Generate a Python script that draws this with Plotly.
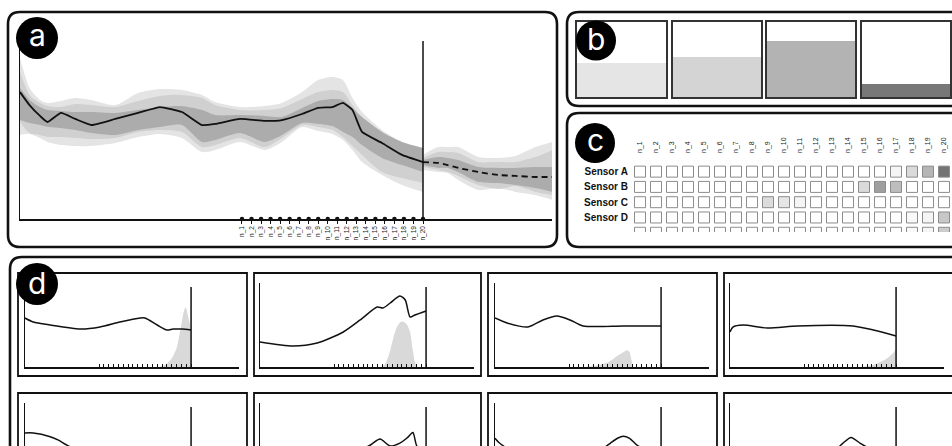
import plotly.graph_objects as go

W, H = 952, 446

# ---------------- Panel a: history + forecast with uncertainty bands ----------------
a_t = [-22.3, -21.3, -20.2, -19.4, -18.0, -16.5, -14.8, -12.3, -9.9, -7.6, -5.3, -3.2, -1.8,
       0.8, 3.4, 5.2, 7.3, 9.0, 10.5, 11.6, 12.6, 13.6, 15.7, 17.8, 20.0]
a_mean = [71.3, 64.0, 57.9, 54.5, 59.6, 56.2, 52.8, 56.2, 59.6, 62.9, 60.1, 52.8, 53.4,
          56.2, 55.1, 55.6, 59.0, 62.4, 62.9, 65.2, 61.2, 48.9, 42.7, 36.0, 32.0]
a_out_hi = [90.4, 73.6, 66.9, 65.2, 66.3, 68.0, 66.9, 64.0, 70.8, 73.0, 72.5, 69.7, 65.7,
            62.9, 63.5, 65.2, 71.3, 78.1, 79.8, 78.1, 68.0, 60.1, 50.0, 43.3, 39.9]
a_mid_hi = [82.6, 69.7, 65.2, 63.5, 62.9, 64.6, 64.0, 62.9, 66.3, 69.1, 69.7, 68.0, 64.0,
            61.2, 61.2, 62.4, 67.4, 71.3, 72.5, 71.3, 64.0, 56.7, 48.3, 41.6, 38.8]
a_in_hi = [73.6, 66.9, 62.9, 61.2, 60.7, 60.1, 60.1, 59.6, 61.2, 62.9, 63.5, 61.2, 58.4,
           58.4, 57.9, 57.3, 62.4, 66.3, 67.4, 66.9, 62.4, 57.3, 48.9, 43.3, 39.9]
a_in_lo = [55.6, 53.9, 52.8, 51.7, 51.1, 50.0, 48.3, 47.2, 50.0, 51.7, 52.8, 43.3, 44.4,
           48.3, 43.3, 47.2, 53.9, 53.4, 52.2, 48.9, 46.1, 41.6, 34.3, 30.3, 26.4]
a_mid_lo = [54.5, 48.3, 47.2, 46.1, 46.1, 45.5, 44.9, 45.5, 48.9, 50.0, 48.9, 40.4, 41.6,
            45.5, 40.4, 45.5, 52.8, 51.7, 50.0, 46.1, 41.0, 36.0, 26.4, 23.0, 20.2]
a_out_lo = [47.2, 47.8, 45.5, 43.3, 41.6, 41.0, 41.0, 42.7, 46.1, 47.8, 45.5, 37.6, 38.8,
            43.3, 38.8, 43.3, 51.7, 49.4, 47.8, 44.4, 38.8, 32.0, 24.7, 19.1, 15.2]

f_t = [20.0, 21.6, 22.6, 23.7, 25.8, 27.9, 29.7, 31.8, 33.6]
f_mean = [32.0, 31.5, 30.3, 28.7, 26.4, 24.7, 24.2, 23.6, 23.6]
f_out_hi = [36.0, 40.4, 40.4, 40.4, 34.8, 34.3, 35.4, 40.4, 43.3]
f_mid_hi = [34.3, 37.6, 37.6, 37.1, 32.0, 32.0, 32.0, 34.8, 38.8]
f_in_hi = [33.1, 34.8, 34.3, 33.1, 29.2, 28.7, 28.7, 29.2, 29.2]
f_in_lo = [30.3, 28.7, 28.7, 26.4, 20.8, 20.2, 19.1, 17.4, 15.2]
f_mid_lo = [29.2, 27.5, 26.4, 24.2, 19.1, 16.9, 18.5, 15.2, 13.5]
f_out_lo = [27.5, 26.4, 25.8, 21.9, 16.3, 17.4, 15.2, 13.5, 10.7]

steps = [1, 2, 3, 4, 5, 6, 7, 8, 9, 10, 11, 12, 13, 14, 15, 16, 17, 18, 19, 20]
step_labels = ["n_1", "n_2", "n_3", "n_4", "n_5", "n_6", "n_7", "n_8", "n_9", "n_10",
               "n_11", "n_12", "n_13", "n_14", "n_15", "n_16", "n_17", "n_18", "n_19", "n_20"]
now_step = 20
vline_top = 95.2

# ---------------- Panel b: fill levels ----------------
b_values = [0.46, 0.54, 0.75, 0.18]

# ---------------- Panel c: sensor x step matrix ----------------
sensors = ["Sensor A", "Sensor B", "Sensor C", "Sensor D", "Sensor E"]
c_A = [0, 0, 0, 0, 0, 0, 0, 0, 0, 0, 0, 0, 0, 0, 0, 0, 0.05, 0.19, 0.38, 0.72]
c_B = [0, 0, 0, 0, 0, 0, 0, 0, 0, 0, 0, 0, 0, 0, 0.19, 0.49, 0.34, 0, 0, 0]
c_C = [0, 0, 0, 0, 0, 0, 0, 0, 0.18, 0.13, 0.05, 0, 0, 0, 0, 0, 0, 0, 0, 0]
c_D = [0, 0, 0, 0, 0, 0, 0, 0, 0, 0, 0, 0, 0, 0, 0, 0, 0, 0.03, 0.05, 0.28]
c_E = [0, 0, 0, 0, 0, 0, 0, 0, 0, 0, 0, 0, 0, 0, 0, 0, 0, 0.03, 0.05, 0.26]
c_rows = [c_A, c_B, c_C, c_D, c_E]

# ---------------- Panel d: small multiples ----------------
d1_t = [-14.3, -12.6, -9.1, -2.9, 1.2, 5.3, 9.5, 10.5, 13.0, 15.0, 16.3, 18.1, 20.0]
d1_v = [58.3, 53.6, 50.0, 45.2, 47.6, 53.6, 58.3, 58.3, 50.0, 44.0, 45.2, 45.2, 44.0]
d2_t = [-14.3, -7.5, -2.5, 2.9, 6.4, 9.9, 11.1, 12.6, 14.6, 15.7, 16.7, 17.7, 20.0]
d2_v = [29.8, 25.0, 28.6, 41.7, 56.0, 71.4, 70.2, 76.2, 84.5, 79.8, 59.5, 61.9, 66.7]
d3_t = [-14.3, -11.8, -7.5, -4.4, -1.5, 1.2, 3.9, 12.2, 20.0]
d3_v = [58.3, 52.4, 47.6, 56.0, 60.7, 56.0, 48.8, 48.8, 48.8]
d4_t = [-14.3, -13.7, -11.6, -6.6, -0.4, 11.1, 15.3, 20.0]
d4_v = [41.7, 47.6, 50.0, 46.4, 48.8, 48.8, 44.0, 36.9]
d5_t = [-14.3, -12.6, -9.1, -7.5, -5.0, 0.0, 6.0, 12.0, 20.0]
d5_v = [64.3, 64.3, 59.9, 56.0, 48.0, 41.0, 38.0, 36.0, 35.0]
d6_t = [-14.3, -8.0, -2.0, 4.0, 8.5, 10.5, 12.5, 14.5, 16.0, 17.0, 17.3, 18.0, 18.6, 20.0]
d6_v = [22, 20, 26, 36, 50, 57, 49, 52, 58, 64, 65, 50, 44, 47]
d7_t = [-14.3, -13.5, -12.0, -8.0, -2.0, 4.0, 8.0, 9.5, 11.0, 12.2, 13.5, 15.0, 16.5, 20.0]
d7_v = [58, 53, 47, 42, 40, 41, 46, 52, 58, 60.5, 58, 50, 45, 44]
d8_t = [-14.3, -8.0, -2.0, 4.0, 8.0, 9.0, 10.7, 12.6, 14.5, 17.0, 20.0]
d8_v = [40, 42, 44, 45, 47, 52, 59, 52, 46, 43, 42]

d1_dt = [13.5, 15.0, 16.0, 17.0, 17.8, 18.5, 18.9, 19.4, 20.0]
d1_dv = [0, 4, 10, 22, 45, 66, 71, 60, 45]
d2_dt = [10.5, 11.5, 12.6, 13.4, 14.0, 14.6, 15.3, 16.0, 16.7, 17.2, 17.7, 18.2]
d2_dv = [0, 3, 20, 38, 48, 53, 54, 51, 42, 22, 6, 0]
d3_dt = [4.5, 7.0, 8.8, 10.0, 10.9, 12.0, 13.0, 13.5, 13.9, 14.3]
d3_dv = [0, 2, 5, 9, 13, 17, 20, 18, 8, 0]
d4_dt = [12.5, 14.5, 16.0, 17.5, 18.5, 19.3, 20.0]
d4_dv = [0, 1.5, 4, 8, 12, 16, 21.4]

d_lines = [(d1_t, d1_v), (d2_t, d2_v), (d3_t, d3_v), (d4_t, d4_v),
           (d5_t, d5_v), (d6_t, d6_v), (d7_t, d7_v), (d8_t, d8_v)]
d_dens = [(d1_dt, d1_dv), (d2_dt, d2_dv), (d3_dt, d3_dv), (d4_dt, d4_dv),
          None, None, None, None]

# ---------------- styles ----------------
INK = "#111111"
C_OUT, C_MID, C_IN = "#e4e4e4", "#d0d0d0", "#acacac"
B_COLORS = ["#e5e5e5", "#d4d4d4", "#b3b3b3", "#787878"]
DENS = "#d9d9d9"
FONT = "Liberation Sans"


def xd(p0, p1):
    return [p0 / W, p1 / W]


def yd(top, bottom):
    return [max(0.0, 1 - bottom / H), 1 - top / H]


def P(x, y):
    return f"{x / W:.5f},{1 - y / H:.5f}"


def rrect(x0, y0, x1, y1, r):
    return (f"M {P(x0 + r, y0)} L {P(x1 - r, y0)} Q {P(x1, y0)} {P(x1, y0 + r)} "
            f"L {P(x1, y1 - r)} Q {P(x1, y1)} {P(x1 - r, y1)} L {P(x0 + r, y1)} "
            f"Q {P(x0, y1)} {P(x0, y1 - r)} L {P(x0, y0 + r)} Q {P(x0, y0)} {P(x0 + r, y0)} Z")


base_ax = dict(showgrid=False, zeroline=False, fixedrange=True, showticklabels=False, ticks="")
fig = go.Figure()
layout = {}
spl = dict(shape="spline", smoothing=0.7)


def add_band(t, lo, hi, color, xa, ya):
    fig.add_trace(go.Scatter(x=t, y=lo, mode="lines", line=dict(width=0, **spl),
                             xaxis=xa, yaxis=ya, hoverinfo="skip"))
    fig.add_trace(go.Scatter(x=t, y=hi, mode="lines", line=dict(width=0, **spl), fill="tonexty",
                             fillcolor=color, xaxis=xa, yaxis=ya, hoverinfo="skip"))


# ---- Panel a ----
for lo, hi, col in [(a_out_lo, a_out_hi, C_OUT), (a_mid_lo, a_mid_hi, C_MID), (a_in_lo, a_in_hi, C_IN)]:
    add_band(a_t, lo, hi, col, "x", "y")
for lo, hi, col in [(f_out_lo, f_out_hi, C_OUT), (f_mid_lo, f_mid_hi, C_MID), (f_in_lo, f_in_hi, C_IN)]:
    add_band(f_t, lo, hi, col, "x", "y")
fig.add_trace(go.Scatter(x=a_t, y=a_mean, mode="lines",
                         line=dict(color=INK, width=1.8, shape="spline", smoothing=0.4)))
fig.add_trace(go.Scatter(x=f_t, y=f_mean, mode="lines",
                         line=dict(color=INK, width=1.8, dash="6px,4px", shape="spline", smoothing=0.4)))
fig.add_trace(go.Scatter(x=[now_step, now_step], y=[0, 100], mode="lines", line=dict(color=INK, width=1.5)))
fig.add_trace(go.Scatter(x=steps, y=[0] * len(steps), mode="markers", cliponaxis=False,
                         marker=dict(color=INK, size=4.5, symbol="circle")))
layout["xaxis"] = dict(base_ax, domain=xd(20, 552), range=[-22.3, 33.54], showline=True, linecolor=INK,
                       linewidth=1.5, tickvals=steps, ticktext=step_labels, showticklabels=True,
                       tickangle=-90, tickfont=dict(size=6.5, color="#222"), ticks="outside",
                       ticklen=3, tickcolor=INK, anchor="y")
layout["yaxis"] = dict(base_ax, domain=yd(41, 219), range=[0, 100], showline=True, linecolor=INK,
                       linewidth=1.5, anchor="x")

# ---- Panel b ----
b_boxes = [(577, 666), (673, 761), (767, 855), (862, 950)]
for i, (val, col, (x0, x1)) in enumerate(zip(b_values, B_COLORS, b_boxes)):
    n = i + 2
    fig.add_trace(go.Bar(x=[0], y=[val], width=1, marker=dict(color=col, line=dict(width=0)),
                         xaxis=f"x{n}", yaxis=f"y{n}"))
    layout[f"xaxis{n}"] = dict(base_ax, domain=xd(x0, x1), range=[-0.5, 0.5], showline=True, mirror=True,
                               linecolor="#333", linewidth=1.8, anchor=f"y{n}")
    layout[f"yaxis{n}"] = dict(base_ax, domain=yd(22, 97), range=[0, 1], showline=True, mirror=True,
                               linecolor="#333", linewidth=1.8, anchor=f"x{n}")

# ---- Panel c ----
cx, cy, cv = [], [], []
for r, row in enumerate(c_rows):
    for c, v in enumerate(row):
        cx.append(steps[c])
        cy.append(r + 1)
        cv.append(v)
fig.add_trace(go.Scatter(x=cx, y=cy, mode="markers", xaxis="x6", yaxis="y6", cliponaxis=True,
                         marker=dict(symbol="square", size=11, color=cv, cmin=0, cmax=1,
                                     colorscale=[[0, "#ffffff"], [1, "#3c3c3c"]],
                                     line=dict(color="#8c8c8c", width=1))))
layout["xaxis6"] = dict(base_ax, domain=xd(632, 952), range=[0.5, 20.5], side="top", tickvals=steps,
                        ticktext=step_labels, showticklabels=True, tickangle=-90,
                        tickfont=dict(size=7, color="#222"), ticklabelstandoff=10, anchor="y6")
layout["yaxis6"] = dict(base_ax, domain=yd(164, 232), range=[4.95, 0.5], tickvals=[1, 2, 3, 4, 5],
                        ticktext=sensors, showticklabels=True,
                        tickfont=dict(size=10, color=INK, family=FONT, weight="bold"),
                        ticklabelstandoff=3, anchor="x6")

# ---- Panel d ----
d_left = [25, 260, 495, 730]
for k in range(8):
    n = 7 + k
    row, col = divmod(k, 4)
    xa, ya = f"x{n}", f"y{n}"
    if d_dens[k] is not None:
        dt, dv = d_dens[k]
        fig.add_trace(go.Scatter(x=dt, y=dv, mode="lines", fill="tozeroy", fillcolor=DENS,
                                 line=dict(width=0, shape="spline", smoothing=0.6),
                                 xaxis=xa, yaxis=ya, hoverinfo="skip"))
    lt, lv = d_lines[k]
    fig.add_trace(go.Scatter(x=lt, y=lv, mode="lines", xaxis=xa, yaxis=ya,
                             line=dict(color=INK, width=1.5, shape="spline", smoothing=0.7)))
    fig.add_trace(go.Scatter(x=[now_step, now_step], y=[0, vline_top], mode="lines", xaxis=xa, yaxis=ya,
                             line=dict(color=INK, width=1.5)))
    L = d_left[col]
    if row == 0:
        layout[f"xaxis{n}"] = dict(base_ax, domain=xd(L, L + 214), range=[-14.3, 29.9], showline=True,
                                   linecolor=INK, linewidth=1.5, tickvals=steps, ticks="inside",
                                   ticklen=3, tickwidth=1, tickcolor=INK, anchor=ya)
        layout[f"yaxis{n}"] = dict(base_ax, domain=yd(283, 367), range=[0, 100], showline=True,
                                   linecolor=INK, linewidth=1.5, anchor=xa)
    else:
        layout[f"xaxis{n}"] = dict(base_ax, domain=xd(L, L + 214), range=[-14.3, 29.9], showline=False,
                                   anchor=ya)
        layout[f"yaxis{n}"] = dict(base_ax, domain=yd(403, 446), range=[48.8, 100], showline=True,
                                   linecolor=INK, linewidth=1.5, anchor=xa)

# ---- decorations ----
shapes = []
for (x0, y0, x1, y1) in [(8, 12, 557, 247), (567, 12, 968, 106), (567, 113, 968, 247), (10, 257, 968, 480)]:
    shapes.append(dict(type="path", xref="paper", yref="paper", path=rrect(x0, y0, x1, y1, 12),
                       line=dict(color=INK, width=2.6), fillcolor="rgba(0,0,0,0)", layer="below"))
frames_x = [(18, 247), (254, 481), (488, 717), (724, 953)]
for (ft, fb) in [(273, 376), (393, 496)]:
    for (fx0, fx1) in frames_x:
        shapes.append(dict(type="rect", xref="paper", yref="paper", x0=fx0 / W, x1=fx1 / W,
                           y0=1 - fb / H, y1=1 - ft / H, line=dict(color=INK, width=1.8), layer="below"))
badges = [("a", 37, 38, 21, 3), ("b", 596, 40.5, 20, 1), ("c", 595, 143, 20, 3), ("d", 37, 284, 21, 1)]
annotations = []
for txt, bx, by, br, ys in badges:
    shapes.append(dict(type="circle", xref="paper", yref="paper", x0=(bx - br) / W, x1=(bx + br) / W,
                       y0=1 - (by + br) / H, y1=1 - (by - br) / H, fillcolor="#000000",
                       line=dict(width=0), layer="above"))
    annotations.append(dict(text=txt, x=bx / W, y=1 - by / H, xref="paper", yref="paper", showarrow=False,
                            xanchor="center", yanchor="middle", yshift=ys,
                            font=dict(family="Inter", size=30, color="white")))

fig.update_layout(**layout)
fig.update_layout(width=W, height=H, margin=dict(l=0, r=0, t=0, b=0), autosize=False,
                  paper_bgcolor="white", plot_bgcolor="rgba(0,0,0,0)", showlegend=False,
                  shapes=shapes, annotations=annotations, font=dict(family=FONT, color=INK),
                  bargap=0)

fig.write_html("out.html", config={"displayModeBar": False, "staticPlot": True},
               post_script="document.body.style.margin='0';document.body.style.overflow='hidden';")
